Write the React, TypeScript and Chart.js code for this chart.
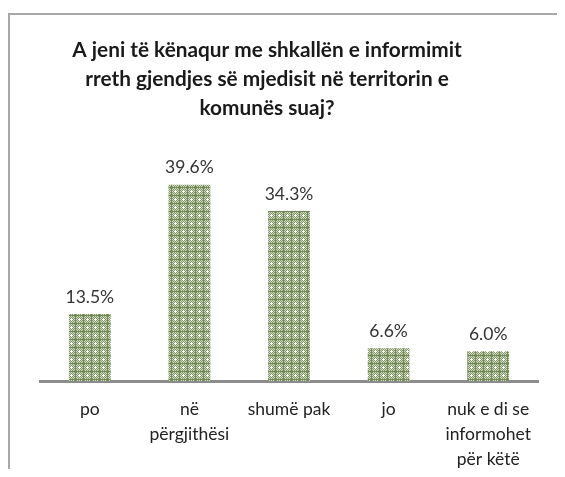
import React, { useEffect, useRef } from "react";
import { Chart, registerables } from "chart.js";

Chart.register(...registerables);

const titleLines = [
  "A jeni të kënaqur me shkallën e informimit",
  "rreth gjendjes së mjedisit në territorin e",
  "komunës suaj?",
];
const categories: string[][] = [
  ["po"],
  ["në", "përgjithësi"],
  ["shumë pak"],
  ["jo"],
  ["nuk e di se", "informohet", "për këtë"],
];
const values = [13.5, 39.6, 34.3, 6.6, 6.0];
const valueLabels = ["13.5%", "39.6%", "34.3%", "6.6%", "6.0%"];

const FONT = "Lato, 'Open Sans', sans-serif";

function makePattern(): CanvasPattern | string {
  const c = document.createElement("canvas");
  c.width = 8;
  c.height = 8;
  const g = c.getContext("2d");
  if (!g) return "#9aab80";
  g.fillStyle = "#d2dbc2";
  g.fillRect(0, 0, 8, 8);
  g.fillStyle = "#809666";
  for (let y = 0; y < 8; y++) {
    for (let x = 0; x < 8; x++) {
      if ((x + y) % 2 === 0) g.fillRect(x, y, 1, 1);
    }
  }
  g.fillStyle = "#718957";
  g.fillRect(0, 3, 8, 1);
  g.fillRect(3, 0, 1, 8);
  g.fillStyle = "#ffffff";
  g.fillRect(7, 7, 1, 1);
  g.fillRect(6, 7, 1, 1);
  g.fillRect(7, 6, 1, 1);
  g.fillRect(0, 7, 1, 1);
  g.fillRect(7, 0, 1, 1);
  const p = g.createPattern(c, "repeat");
  return p || "#9aab80";
}

const decorPlugin = {
  id: "decor",
  afterDraw(chart: any) {
    const ctx = chart.ctx as CanvasRenderingContext2D;
    ctx.save();
    // frame (top and left visible)
    ctx.strokeStyle = "#a8a8a8";
    ctx.lineWidth = 2;
    ctx.beginPath();
    ctx.moveTo(1, chart.height + 5);
    ctx.lineTo(1, 6);
    ctx.lineTo(chart.width + 5, 6);
    ctx.stroke();
    // title
    ctx.fillStyle = "#1a1a1a";
    ctx.font = `bold 20.8px ${FONT}`;
    ctx.textAlign = "center";
    ctx.textBaseline = "middle";
    titleLines.forEach((t, i) => ctx.fillText(t, 259, 42 + i * 29));
    // value labels
    const meta = chart.getDatasetMeta(0);
    ctx.font = `17.5px ${FONT}`;
    ctx.fillStyle = "#333333";
    meta.data.forEach((bar: any, i: number) => {
      ctx.fillText(valueLabels[i], bar.x, bar.y - 17);
    });
    ctx.restore();
  },
};

export default function App() {
  const ref = useRef<HTMLCanvasElement>(null);
  useEffect(() => {
    if (!ref.current) return;
    const chart = new Chart(ref.current, {
      type: "bar",
      data: {
        labels: categories,
        datasets: [
          {
            data: values,
            backgroundColor: makePattern() as any,
            borderWidth: 0,
            categoryPercentage: 1,
            barPercentage: 0.42,
          },
        ],
      },
      options: {
        animation: false,
        responsive: false,
        layout: { padding: { left: 32, right: 19, top: 150, bottom: 0 } },
        plugins: { legend: { display: false }, tooltip: { enabled: false } },
        scales: {
          x: {
            grid: { display: false, drawTicks: false },
            border: { display: true, color: "#8c8c8c", width: 3 },
            ticks: {
              color: "#222222",
              font: { family: FONT, size: 17.5, lineHeight: "25px" as any },
              padding: 16,
              maxRotation: 0,
              autoSkip: false,
            },
            afterFit(scale: any) {
              scale.height = 88;
            },
          },
          y: {
            display: false,
            min: 0,
            max: 45,
          },
        },
      },
      plugins: [decorPlugin],
    });
    return () => chart.destroy();
  }, []);
  return <canvas ref={ref} width={549} height={461} style={{ display: "block" }} />;
}
